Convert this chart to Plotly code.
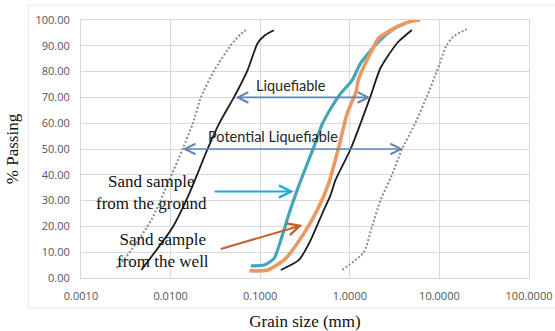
import numpy as np
import plotly.graph_objects as go

# ---- data (grain size in mm, % passing) ----
pot_lower_d = [0.00249, 0.00366, 0.0061, 0.00935, 0.01374, 0.01774, 0.02193, 0.03083, 0.0472, 0.0603, 0.0693]
pot_lower_p = [3.8, 10.9, 22.5, 36.7, 50.3, 60.0, 70.3, 80.6, 90.3, 94.5, 96.1]

liq_lower_d = [0.00472, 0.01064, 0.0156, 0.0261, 0.035, 0.0514, 0.0724, 0.0935, 0.112, 0.142]
liq_lower_p = [3.1, 19.9, 31.5, 50.3, 60.0, 70.3, 80.6, 91.0, 94.0, 96.0]

liq_upper_d = [0.17, 0.271, 0.366, 0.493, 0.611, 0.693, 1.019, 1.698, 2.193, 3.365, 4.93]
liq_upper_p = [3.1, 7.0, 14.7, 25.0, 32.2, 38.0, 49.9, 70.3, 81.3, 91.0, 96.1]

pot_upper_d = [0.822, 1.432, 1.774, 2.193, 2.958, 3.819, 5.37, 7.244, 9.35, 12.08, 14.3, 20.14]
pot_upper_p = [3.1, 10.0, 20.0, 30.0, 40.0, 49.9, 60.0, 70.3, 80.0, 90.3, 93.5, 96.5]

ground_d = [0.0788, 0.111, 0.143, 0.17, 0.21, 0.271, 0.398, 0.49, 0.62, 0.79, 1.064, 1.315, 2.099, 2.958, 4.16]
ground_p = [4.7, 5.0, 7.6, 14.7, 25.0, 36.0, 50.9, 59.5, 66.0, 71.5, 76.7, 83.2, 91.6, 96.1, 98.7]

well_d = [0.076, 0.121, 0.185, 0.201, 0.308, 0.435, 0.585, 0.755, 0.935, 1.17, 1.25, 1.698, 2.099, 3.365, 4.72, 6.11]
well_p = [2.8, 3.1, 7.0, 8.3, 17.3, 26.4, 37.0, 50.9, 63.8, 72.0, 77.0, 87.1, 92.9, 97.4, 99.4, 100.0]

# ranges shown by arrows: (from d, to d, at % passing)
liq_range = (0.051, 1.70, 70.0)
pot_range = (0.0131, 3.95, 50.0)
# pointer arrows: (tail d, tail p, head d, head p)
ground_ptr = (0.0298, 33.5, 0.237, 33.5)
well_ptr = (0.035, 11.1, 0.296, 20.5)

x_ticks = [0.001, 0.01, 0.1, 1, 10, 100]
x_tick_text = ["0.0010", "0.0100", "0.1000", "1.0000", "10.0000", "100.0000"]
y_ticks = [0, 10, 20, 30, 40, 50, 60, 70, 80, 90, 100]
y_tick_text = ["%.2f" % v for v in y_ticks]

fig = go.Figure()

dot = dict(color="#8a8a8a", width=2, dash="2px,2px", shape="spline", smoothing=0.6)
blk = dict(color="#1c1c1c", width=1.8, shape="spline", smoothing=0.6)

fig.add_trace(go.Scatter(x=pot_lower_d, y=pot_lower_p, mode="lines", line=dot))
fig.add_trace(go.Scatter(x=pot_upper_d, y=pot_upper_p, mode="lines", line=dot))
fig.add_trace(go.Scatter(x=liq_lower_d, y=liq_lower_p, mode="lines", line=blk))
fig.add_trace(go.Scatter(x=liq_upper_d, y=liq_upper_p, mode="lines", line=blk))
fig.add_trace(go.Scatter(x=ground_d, y=ground_p, mode="lines",
                         line=dict(color="#46a4b9", width=3.2, shape="spline", smoothing=0.6)))
fig.add_trace(go.Scatter(x=well_d, y=well_p, mode="lines",
                         line=dict(color="#e99a62", width=3.6, shape="spline", smoothing=0.6)))

L = np.log10
annots = []
for (d0, d1, p), col in [(liq_range, "#5f86b0"), (pot_range, "#5f86b0")]:
    annots.append(dict(x=L(d1), y=p, ax=L(d0), ay=p, xref="x", yref="y", axref="x", ayref="y",
                       text="", showarrow=True, arrowside="end+start", arrowhead=5, startarrowhead=5,
                       arrowsize=1.3, startarrowsize=1.3, arrowwidth=1.6, arrowcolor=col))
for (d0, p0, d1, p1), col in [(ground_ptr, "#1aace0"), (well_ptr, "#c4602a")]:
    annots.append(dict(x=L(d1), y=p1, ax=L(d0), ay=p0, xref="x", yref="y", axref="x", ayref="y",
                       text="", showarrow=True, arrowhead=5, arrowsize=1.2, arrowwidth=2, arrowcolor=col))

calib = dict(family="Lato, Open Sans, sans-serif", size=14.5, color="#262626")
serif = dict(family="Liberation Serif, Times New Roman, serif", size=17, color="#111111")
annots += [
    dict(x=-0.66, y=74.6, xref="x", yref="y", text="Liquefiable", showarrow=False, font=calib),
    dict(x=-0.86, y=54.8, xref="x", yref="y", text="Potential Liquefiable", showarrow=False, font=calib),
    dict(x=-2.21, y=33.0, xref="x", yref="y", text="Sand sample<br>from the ground", showarrow=False,
         font=serif, align="center"),
    dict(x=-2.09, y=10.6, xref="x", yref="y", text="Sand sample<br>from the well", showarrow=False,
         font=serif, align="center"),
]

fig.update_layout(
    width=555, height=331,
    margin=dict(l=81, r=26, t=20, b=53),
    paper_bgcolor="white", plot_bgcolor="white",
    showlegend=False,
    annotations=annots,
    shapes=[dict(type="rect", xref="paper", yref="paper", x0=-0.118, x1=1.06, y0=-0.116, y1=1.058,
                 line=dict(color="#e8e8e8", width=1), layer="below")],
)
tickfont = dict(family="Open Sans, Liberation Sans, sans-serif", size=11, color="#555555")
fig.update_xaxes(type="log", range=[-3, 2], tickvals=x_ticks, ticktext=x_tick_text,
                 showgrid=True, gridcolor="#d9d9d9", gridwidth=1,
                 showline=True, mirror=True, linecolor="#d9d9d9", linewidth=1,
                 zeroline=False, ticks="", tickfont=tickfont, ticklabelstandoff=8, automargin=False,
                 title=dict(text="Grain size (mm)", font=dict(family="Liberation Serif, serif", size=17, color="#111"),
                            standoff=12))
fig.update_yaxes(range=[0, 100], tickvals=y_ticks, ticktext=y_tick_text,
                 showgrid=True, gridcolor="#d9d9d9", gridwidth=1,
                 showline=True, mirror=True, linecolor="#d9d9d9", linewidth=1,
                 zeroline=False, ticks="", tickfont=tickfont, ticklabelstandoff=8, automargin=False,
                 title=dict(text="% Passing", font=dict(family="Liberation Serif, serif", size=17, color="#111"),
                            standoff=12))

fig.write_html("out.html")
